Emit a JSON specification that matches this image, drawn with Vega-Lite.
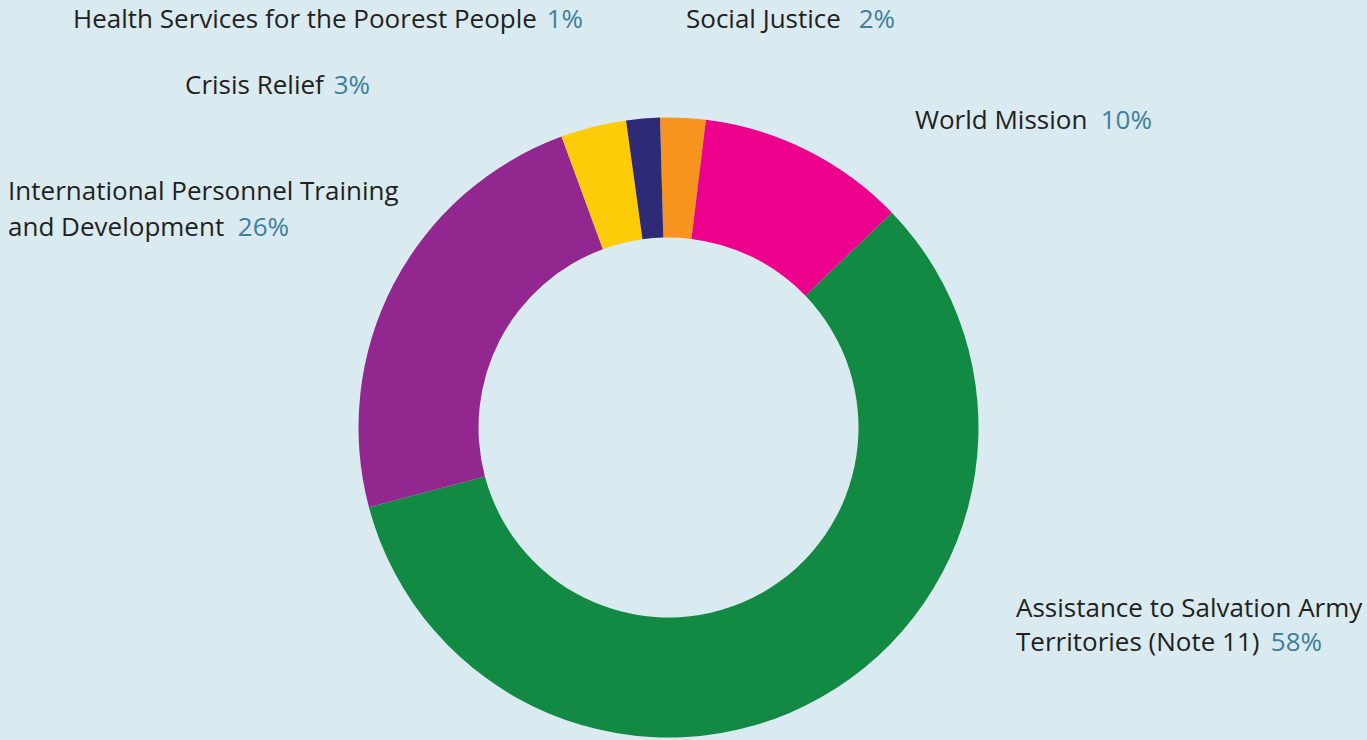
{
  "$schema": "https://vega.github.io/schema/vega-lite/v6.json",
  "width": 1337,
  "height": 625,
  "padding": {"left": 0, "top": 115, "right": 30, "bottom": 0},
  "autosize": {"type": "none"},
  "background": "#d9eaf1",
  "config": {"view": {"stroke": null}, "text": {"font": "Open Sans", "fontSize": 26}},
  "data": {
    "values": [
      {"category": "Social Justice", "label": "Social Justice", "share": 2.36, "pct": "2%"},
      {"category": "World Mission", "label": "World Mission", "share": 10.89, "pct": "10%"},
      {"category": "Assistance to Salvation Army Territories (Note 11)", "label": "Assistance to Salvation Army\nTerritories (Note 11)", "share": 58.04, "pct": "58%"},
      {"category": "International Personnel Training and Development", "label": "International Personnel Training\nand Development", "share": 23.54, "pct": "26%"},
      {"category": "Crisis Relief", "label": "Crisis Relief", "share": 3.42, "pct": "3%"},
      {"category": "Health Services for the Poorest People", "label": "Health Services for the Poorest People", "share": 1.75, "pct": "1%"}
    ]
  },
  "transform": [{"window": [{"op": "row_number", "as": "idx"}]}],
  "encoding": {
    "theta": {"field": "share", "type": "quantitative", "stack": true, "scale": {"range": [-0.0274, 6.2558]}},
    "order": {"field": "idx", "type": "quantitative"}
  },
  "layer": [
    {
      "mark": {"type": "arc", "outerRadius": 310, "innerRadius": 190},
      "encoding": {
        "color": {
          "field": "category", "type": "nominal", "legend": null,
          "scale": {
            "domain": ["Social Justice", "World Mission", "Assistance to Salvation Army Territories (Note 11)", "International Personnel Training and Development", "Crisis Relief", "Health Services for the Poorest People"],
            "range": ["#f7941d", "#ec008c", "#128a43", "#92278f", "#fecb08", "#2e2a76"]
          }
        }
      }
    },
    {
      "mark": {"type": "text", "radius": 340, "align": "left", "baseline": "alphabetic", "dx": -567.5, "dy": -60.7, "color": "#231f20"},
      "encoding": {"text": {"condition": {"test": "datum.category === 'Health Services for the Poorest People'", "field": "label", "type": "nominal"}, "value": ""}}
    },
    {
      "mark": {"type": "text", "radius": 340, "align": "right", "baseline": "alphabetic", "dx": -57.5, "dy": -60.7, "color": "#3e7f9c"},
      "encoding": {"text": {"condition": {"test": "datum.category === 'Health Services for the Poorest People'", "field": "pct", "type": "nominal"}, "value": ""}}
    },
    {
      "mark": {"type": "text", "radius": 340, "align": "left", "baseline": "alphabetic", "dx": 1.6, "dy": -59.9, "color": "#231f20"},
      "encoding": {"text": {"condition": {"test": "datum.category === 'Social Justice'", "field": "label", "type": "nominal"}, "value": ""}}
    },
    {
      "mark": {"type": "text", "radius": 340, "align": "right", "baseline": "alphabetic", "dx": 210.6, "dy": -59.9, "color": "#3e7f9c"},
      "encoding": {"text": {"condition": {"test": "datum.category === 'Social Justice'", "field": "pct", "type": "nominal"}, "value": ""}}
    },
    {
      "mark": {"type": "text", "radius": 340, "align": "left", "baseline": "alphabetic", "dx": -401.1, "dy": -3.6, "color": "#231f20"},
      "encoding": {"text": {"condition": {"test": "datum.category === 'Crisis Relief'", "field": "label", "type": "nominal"}, "value": ""}}
    },
    {
      "mark": {"type": "text", "radius": 340, "align": "right", "baseline": "alphabetic", "dx": -216.1, "dy": -3.6, "color": "#3e7f9c"},
      "encoding": {"text": {"condition": {"test": "datum.category === 'Crisis Relief'", "field": "pct", "type": "nominal"}, "value": ""}}
    },
    {
      "mark": {"type": "text", "radius": 340, "align": "left", "baseline": "alphabetic", "dx": 94.6, "dy": 5.7, "color": "#231f20"},
      "encoding": {"text": {"condition": {"test": "datum.category === 'World Mission'", "field": "label", "type": "nominal"}, "value": ""}}
    },
    {
      "mark": {"type": "text", "radius": 340, "align": "right", "baseline": "alphabetic", "dx": 331.6, "dy": 5.7, "color": "#3e7f9c"},
      "encoding": {"text": {"condition": {"test": "datum.category === 'World Mission'", "field": "pct", "type": "nominal"}, "value": ""}}
    },
    {
      "mark": {"type": "text", "radius": 340, "align": "left", "baseline": "alphabetic", "dx": -358.7, "dy": -70.8, "lineBreak": "\n", "lineHeight": 36, "color": "#231f20"},
      "encoding": {"text": {"condition": {"test": "datum.category === 'International Personnel Training and Development'", "field": "label", "type": "nominal"}, "value": ""}}
    },
    {
      "mark": {"type": "text", "radius": 340, "align": "right", "baseline": "alphabetic", "dx": -77.7, "dy": -34.8, "color": "#3e7f9c"},
      "encoding": {"text": {"condition": {"test": "datum.category === 'International Personnel Training and Development'", "field": "pct", "type": "nominal"}, "value": ""}}
    },
    {
      "mark": {"type": "text", "radius": 340, "align": "left", "baseline": "alphabetic", "dx": 180.6, "dy": -106.7, "lineBreak": "\n", "lineHeight": 34, "color": "#231f20"},
      "encoding": {"text": {"condition": {"test": "datum.category === 'Assistance to Salvation Army Territories (Note 11)'", "field": "label", "type": "nominal"}, "value": ""}}
    },
    {
      "mark": {"type": "text", "radius": 340, "align": "right", "baseline": "alphabetic", "dx": 486.6, "dy": -72.7, "color": "#3e7f9c"},
      "encoding": {"text": {"condition": {"test": "datum.category === 'Assistance to Salvation Army Territories (Note 11)'", "field": "pct", "type": "nominal"}, "value": ""}}
    }
  ]
}
